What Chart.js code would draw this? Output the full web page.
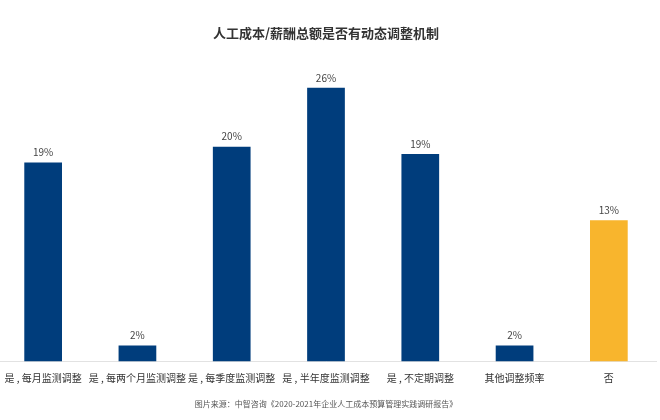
<!DOCTYPE html>
<html>
<head>
<meta charset="utf-8">
<script src="https://cdn.jsdelivr.net/npm/chart.js@4.4.0/dist/chart.umd.min.js"></script>
<style>
    html, body { margin: 0; padding: 0; background: #fff; overflow: hidden; }
    #wrap { width: 664px; height: 420px; margin-left: -4px; }
</style>
</head>
<body>
<div id="wrap"><canvas id="myChart"></canvas></div>
<script>
// data
const categories = ['是 , 每月监测调整', '是 , 每两个月监测调整', '是 , 每季度监测调整', '是 , 半年度监测调整', '是 , 不定期调整', '其他调整频率', '否'];
const shares = [18.9, 1.5, 20.4, 26, 19.7, 1.5, 13.4];
const shareLabels = ['19%', '2%', '20%', '26%', '19%', '2%', '13%'];
const barColors = ['#003d7c', '#003d7c', '#003d7c', '#003d7c', '#003d7c', '#003d7c', '#f8b52d'];

const FONT = '"Noto Sans CJK SC", "Noto Sans", sans-serif';

// value text above each bar
const valueLabels = {
    id: 'valueLabels',
    afterDatasetsDraw(chart) {
        const ctx = chart.ctx;
        const meta = chart.getDatasetMeta(0);
        ctx.save();
        ctx.font = '10px ' + FONT;
        ctx.fillStyle = '#444';
        ctx.textAlign = 'center';
        ctx.textBaseline = 'bottom';
        meta.data.forEach((bar, i) => {
            ctx.fillText(shareLabels[i], bar.x, bar.y - 5);
        });
        ctx.restore();
    }
};

var ctx = document.getElementById('myChart').getContext('2d');
var chart = new Chart(ctx, {
    type: 'bar',
    data: {
        labels: categories,
        datasets: [{
            data: shares,
            backgroundColor: barColors,
            categoryPercentage: 1,
            barPercentage: 0.4
        }]
    },
    options: {
        responsive: true,
        maintainAspectRatio: false,
        animation: false,
        layout: { padding: { left: 0, right: 4, top: 0, bottom: 0 } },
        plugins: {
            legend: { display: false },
            tooltip: { enabled: false },
            title: {
                display: true,
                text: '人工成本/薪酬总额是否有动态调整机制',
                color: '#333',
                font: { family: FONT, size: 13, weight: 'bold' },
                padding: { top: 25, bottom: 5 }
            },
            subtitle: {
                display: true,
                position: 'bottom',
                text: '图片来源：中智咨询《2020-2021年企业人工成本预算管理实践调研报告》',
                color: '#555',
                font: { family: FONT, size: 8 },
                padding: { top: 12, bottom: 11 }
            }
        },
        scales: {
            x: {
                grid: { display: false },
                border: { color: '#e2e2e2', width: 1 },
                ticks: {
                    color: '#333',
                    font: { family: FONT, size: 10 },
                    padding: 3,
                    maxRotation: 0,
                    autoSkip: false
                }
            },
            y: {
                display: false,
                min: 0,
                max: 30
            }
        }
    },
    plugins: [valueLabels]
});
</script>
</body>
</html>
